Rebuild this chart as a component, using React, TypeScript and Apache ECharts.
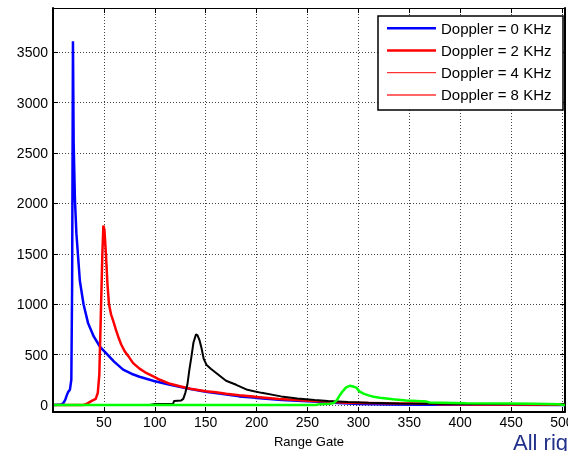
import React, { useEffect, useRef } from "react";
import * as echarts from "echarts";

const legendNames = ["Doppler = 0 KHz", "Doppler = 2 KHz", "Doppler = 4 KHz", "Doppler = 8 KHz"];
const legendColors = ["#0000ff", "#ff0000", "#ff0000", "#ff6666"];
const legendWidths = [2.5, 2.5, 1, 2];
const seriesColors = ["#0000ff", "#ff0000", "#000000", "#00ff00"];
const seriesWidths = [2.5, 2.5, 2, 2.5];
const xAxisName = "Range Gate";
const watermark = "All rig";

// [range gate, amplitude]
const doppler0: [number, number][] = [
  [1, 0], [8, 5], [10, 15], [12, 50], [13.5, 95], [15, 130], [16.6, 150], [18, 250], [18.8, 1200],
  [19.6, 3610], [20.3, 2600], [21.5, 2050], [23, 1700], [26.4, 1230], [30, 1000], [34.5, 810],
  [40, 680], [46, 580], [52.6, 510], [60, 430], [68.9, 350], [77, 310], [85, 280], [100, 235],
  [115, 200], [131, 165], [150, 132], [165, 110], [183, 85], [200, 70], [225, 50], [255, 33],
  [280, 20], [300, 10], [330, 5], [360, 2], [400, 2], [503, 0],
];
const doppler2: [number, number][] = [
  [1, 0], [30, 0], [34, 15], [38, 40], [42, 60], [44, 120], [45.5, 300], [47, 900], [48.5, 1500],
  [49.5, 1780], [50.5, 1740], [52, 1500], [53.5, 1200], [55, 1000], [57, 900], [59, 840],
  [62, 740], [64, 680], [67, 600], [70.6, 530], [75, 470], [78.7, 415], [85, 360], [92, 315],
  [100, 275], [105, 250], [115, 210], [124.5, 185], [135, 160], [150, 135], [160, 125],
  [170, 112], [183, 97], [200, 80], [222, 58], [240, 48], [255, 40], [270, 33], [288, 22],
  [308, 20], [330, 17], [370, 15], [380, 8], [420, 5], [503, 3],
];
const doppler4: [number, number][] = [
  [1, 0], [95, 0], [100, 10], [118, 12], [119, 40], [126, 45], [128, 60], [130, 120], [132, 200],
  [134, 350], [136, 480], [138, 620], [140.5, 700], [142, 690], [144, 640], [146, 560],
  [148, 460], [150.7, 400], [155, 360], [160, 320], [165, 280], [170, 240], [180, 200],
  [191, 150], [205, 120], [224, 85], [240, 65], [257, 50], [270, 40], [290, 30], [310, 22],
  [340, 15], [370, 12], [400, 10], [503, 8],
];
const doppler8: [number, number][] = [
  [1, 0], [258, 0], [262, 8], [272, 12], [276, 20], [279, 50], [282, 100], [285, 140],
  [288, 175], [291.5, 190], [294, 185], [298, 172], [301, 135], [305, 112], [310, 95],
  [315, 82], [321, 72], [334, 56], [347, 43], [367, 33], [370, 25], [406, 18], [472, 12],
  [497, 7], [500, 2], [503, 0],
];
const seriesData = [doppler0, doppler2, doppler4, doppler8];

const FONT = "Liberation Sans";
const xMin = 0, xMax = 503, xStep = 50;
const yMin = -70, yMax = 3940, yStep = 500;

export default function App() {
  const ref = useRef<HTMLDivElement>(null);
  useEffect(() => {
    const chart = echarts.init(ref.current!, null, { renderer: "svg" });
    const grid = "#444";
    const legendX = 378, legendY = 16, legendW = 185, legendH = 94;
    const graphic: any[] = [
      {
        type: "rect", z: 100,
        shape: { x: legendX, y: legendY, width: legendW, height: legendH },
        style: { fill: "#fff", stroke: "#000", lineWidth: 1.5 },
      },
      {
        type: "text", z: 100, x: 513, y: 431,
        style: { text: watermark, fontSize: 22, fontFamily: FONT, fill: "#22318a", verticalAlign: "top" },
      },
    ];
    legendNames.forEach((n, i) => {
      const cy = legendY + 12.3 + 22.2 * i;
      graphic.push({
        type: "line", z: 101,
        shape: { x1: legendX + 9, y1: cy, x2: legendX + 58, y2: cy },
        style: { stroke: legendColors[i], lineWidth: legendWidths[i] },
      });
      graphic.push({
        type: "text", z: 101, x: legendX + 63, y: cy,
        style: { text: n, fontSize: 15, fontFamily: FONT, fill: "#000", verticalAlign: "middle" },
      });
    });

    const plain = (v: number) => String(v);

    chart.setOption({
      animation: false,
      grid: { left: 53, right: 3, top: 8, bottom: 39, containLabel: false, outerBoundsMode: "none" },
      xAxis: [
        {
          type: "value", position: "bottom", min: xMin, max: xMax, interval: xStep,
          name: xAxisName, nameLocation: "middle", nameGap: 23,
          nameTextStyle: { fontSize: 13, fontFamily: FONT, color: "#000" },
          axisLine: { show: true, onZero: false, lineStyle: { color: "#000", width: 2 } },
          axisTick: { show: true, inside: true, length: 5, lineStyle: { color: "#000" } },
          axisLabel: { fontSize: 14, fontFamily: FONT, color: "#000", margin: 3, showMinLabel: false, showMaxLabel: false, formatter: plain },
          splitLine: { show: true, lineStyle: { color: grid, type: [1, 2], width: 1 } },
        },
        {
          type: "value", position: "top", min: xMin, max: xMax, interval: xStep,
          axisLine: { show: true, onZero: false, lineStyle: { color: "#000", width: 1 } },
          axisTick: { show: true, inside: true, length: 5, lineStyle: { color: "#000" } },
          axisLabel: { show: false },
          splitLine: { show: false },
        },
      ],
      yAxis: [
        {
          type: "value", position: "left", min: yMin, max: yMax,
          splitNumber: 8, minInterval: yStep, maxInterval: yStep,
          axisLine: { show: true, onZero: false, lineStyle: { color: "#000", width: 2 } },
          axisTick: { show: true, inside: true, length: 5, lineStyle: { color: "#000" } },
          axisLabel: { fontSize: 14, fontFamily: FONT, color: "#000", margin: 5, showMinLabel: false, showMaxLabel: false, formatter: plain },
          splitLine: { show: true, lineStyle: { color: grid, type: [1, 2], width: 1 } },
        },
        {
          type: "value", position: "right", min: yMin, max: yMax,
          splitNumber: 8, minInterval: yStep, maxInterval: yStep,
          axisLine: { show: true, onZero: false, lineStyle: { color: "#000", width: 2 } },
          axisTick: { show: true, inside: true, length: 5, lineStyle: { color: "#000" } },
          axisLabel: { show: false },
          splitLine: { show: false },
        },
      ],
      series: seriesData.map((d, i) => ({
        type: "line", name: legendNames[i], data: d, xAxisIndex: 0, yAxisIndex: 0,
        symbol: "none", showSymbol: false, smooth: false, z: 2 + i,
        lineStyle: { color: seriesColors[i], width: seriesWidths[i] },
        itemStyle: { color: seriesColors[i] },
      })),
      graphic,
    });
    return () => chart.dispose();
  }, []);
  return <div ref={ref} style={{ position: "fixed", left: 0, top: 0, width: 568, height: 451 }} />;
}
